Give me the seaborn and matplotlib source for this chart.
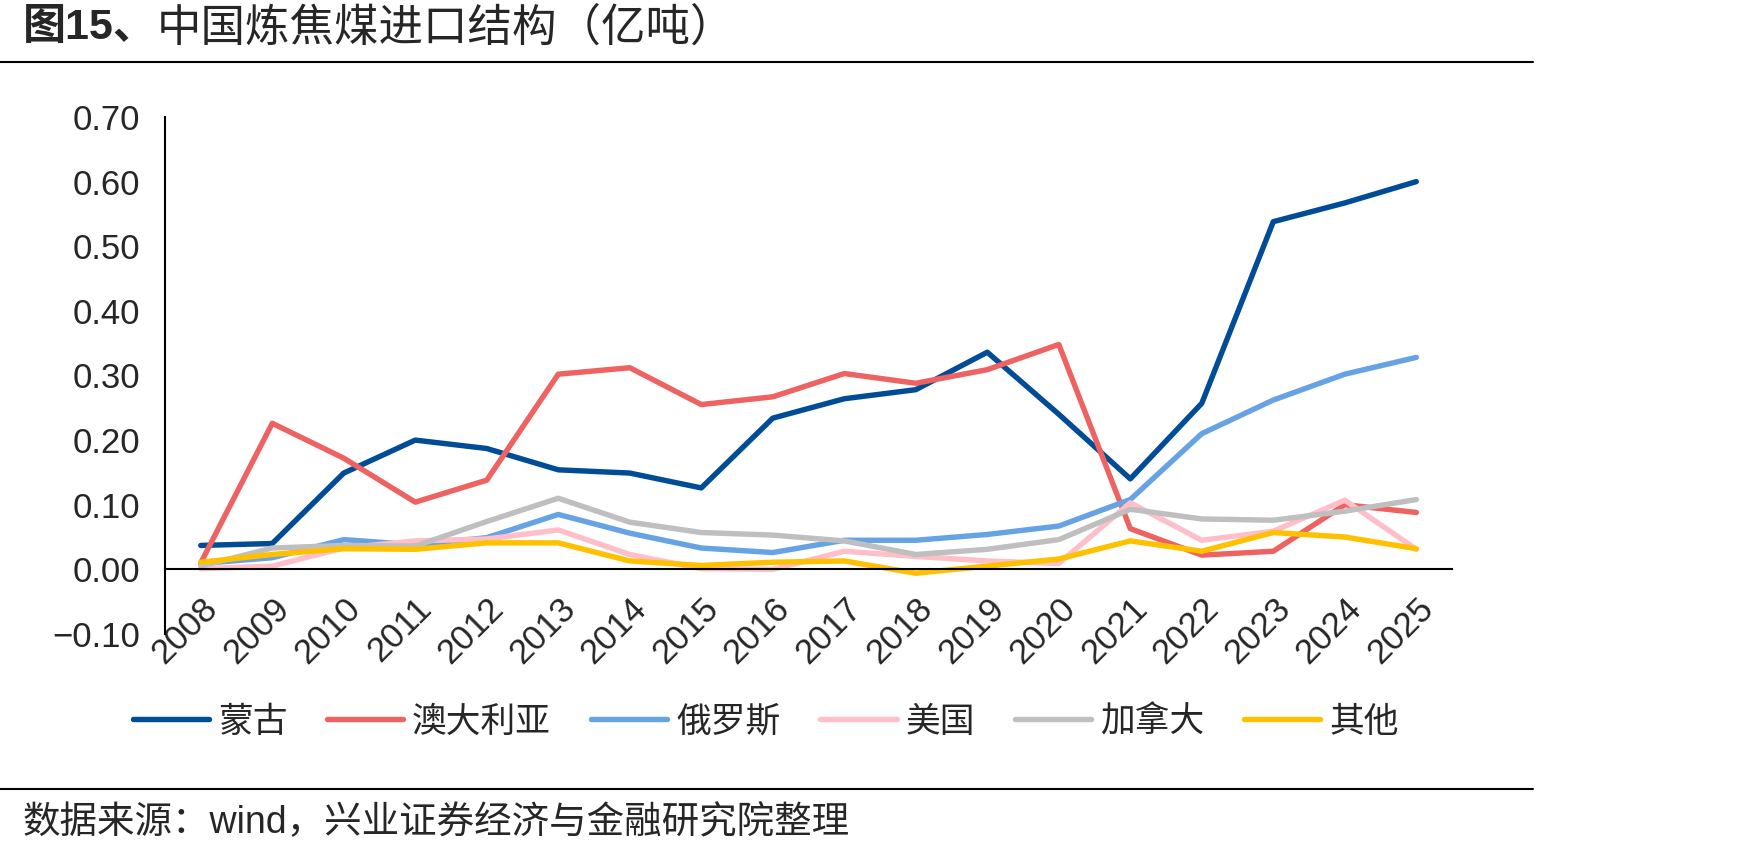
import numpy as np
import pandas as pd
import matplotlib
matplotlib.use("Agg")
import matplotlib.pyplot as plt
from matplotlib.lines import Line2D
from matplotlib.ticker import FuncFormatter
import seaborn as sns

# 中国炼焦煤进口结构（亿吨）
years = [str(y) for y in range(2008, 2026)]
mongolia = [0.037, 0.040, 0.149, 0.200, 0.187, 0.154, 0.149, 0.126, 0.234, 0.264,
            0.278, 0.336, 0.240, 0.140, 0.257, 0.538, 0.567, 0.600]
australia = [0.010, 0.226, 0.172, 0.104, 0.138, 0.302, 0.312, 0.255, 0.267, 0.303,
             0.288, 0.309, 0.348, 0.063, 0.022, 0.028, 0.100, 0.088]
russia = [0.009, 0.018, 0.046, 0.038, 0.049, 0.085, 0.056, 0.033, 0.026, 0.045,
          0.045, 0.054, 0.067, 0.108, 0.210, 0.262, 0.302, 0.328]
usa = [0.001, 0.005, 0.033, 0.044, 0.047, 0.061, 0.023, 0.001, 0.000, 0.028,
       0.020, 0.013, 0.009, 0.103, 0.045, 0.059, 0.107, 0.031]
canada = [0.005, 0.033, 0.037, 0.036, 0.074, 0.110, 0.073, 0.057, 0.053, 0.044,
          0.023, 0.031, 0.046, 0.093, 0.078, 0.076, 0.090, 0.108]
other = [0.011, 0.023, 0.032, 0.031, 0.041, 0.041, 0.013, 0.006, 0.011, 0.013,
         -0.006, 0.005, 0.016, 0.044, 0.028, 0.057, 0.050, 0.032]

names = ["蒙古", "澳大利亚", "俄罗斯", "美国", "加拿大", "其他"]
colors = ["#004C97", "#EF6262", "#67A3E4", "#FFBFCA", "#BFBFBF", "#FFC000"]

df = pd.DataFrame({"year": years, "蒙古": mongolia, "澳大利亚": australia,
                   "俄罗斯": russia, "美国": usa, "加拿大": canada, "其他": other})
long = df.melt(id_vars="year", var_name="series", value_name="value")

sns.set_style("white")
plt.rcParams["font.family"] = ["Liberation Sans", "Noto Sans CJK SC", "DejaVu Sans"]
plt.rcParams["axes.unicode_minus"] = True

fig = plt.figure(figsize=(17.48, 8.52), dpi=100)
ax = fig.add_axes([0.0944, 0.2559, 0.7363, 0.6068])

sns.lineplot(data=long, x="year", y="value", hue="series", hue_order=names,
             palette=colors, linewidth=3.9, ax=ax, legend=False, sort=False)

ax.set_xlim(-0.5, len(years) - 0.5)
ax.set_ylim(-0.1, 0.7)
ax.set_yticks(np.arange(-0.1, 0.71, 0.1))
ax.yaxis.set_major_formatter(FuncFormatter(
    lambda v, p: f"{v:.2f}".replace("-0.00", "0.00").replace("-", "\u2212")))
ax.set_xlabel("")
ax.set_ylabel("")

for s in ["top", "right"]:
    ax.spines[s].set_visible(False)
ax.spines["bottom"].set_position(("data", 0))
for s in ["left", "bottom"]:
    ax.spines[s].set_color("black")
    ax.spines[s].set_linewidth(1.5)

ax.set_xticks(np.arange(-0.5, len(years), 1))
ax.set_xticklabels([""] * (len(years) + 1))
ax.set_xticks(np.arange(len(years)), minor=True)
ax.set_xticklabels(years, minor=True, rotation=45, ha="right", va="top",
                   rotation_mode="anchor", fontsize=25)
ax.tick_params(axis="x", which="major", direction="out", length=8, width=1.5, color="black")
ax.tick_params(axis="x", which="minor", length=0, pad=16)
ax.tick_params(axis="y", direction="out", length=8, width=1.5, color="black",
               labelsize=25, pad=10)

handles = [Line2D([0], [0], color=c, lw=3.9, solid_capstyle="round") for c in colors]
fig.legend(handles, names, loc="center", bbox_to_anchor=(0.438, 0.1526), ncol=6,
           frameon=False, fontsize=25, handlelength=2.2, handletextpad=0.25,
           columnspacing=1.15)

fig.add_artist(Line2D([0, 0.877], [0.927, 0.927], transform=fig.transFigure,
                      color="black", lw=1.5))
fig.add_artist(Line2D([0, 0.877], [0.074, 0.074], transform=fig.transFigure,
                      color="black", lw=1.5))

t1 = fig.text(0.013, 0.967, "图15、", fontsize=31, fontweight="bold",
              va="center", ha="left")
ax.annotate("中国炼焦煤进口结构（亿吨）", xy=(1, 0.5), xycoords=t1,
            va="center", ha="left", fontsize=32, annotation_clip=False)
fig.text(0.013, 0.034, "数据来源：wind，兴业证券经济与金融研究院整理", fontsize=27,
         va="center", ha="left")

fig.savefig("out.png", dpi=100)
